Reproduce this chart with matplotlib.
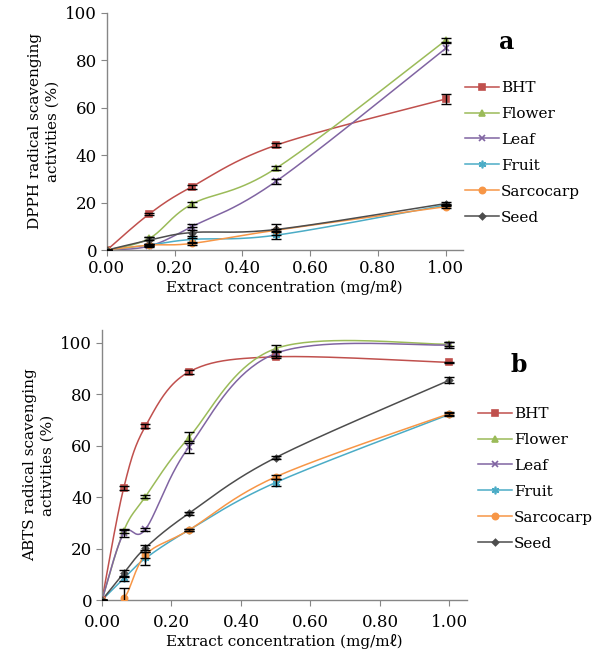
import numpy as np
import matplotlib
matplotlib.use("Agg")
import matplotlib.pyplot as plt
from matplotlib.lines import Line2D

plt.rcParams['font.family'] = ['DejaVu Serif', 'Noto Sans CJK KR']

series = ["BHT", "Flower", "Leaf", "Fruit", "Sarcocarp", "Seed"]
colors = ["#C0504D", "#9BBB59", "#8064A2", "#4BACC6", "#F79646", "#4D4D4D"]
markers = ["s", "^", "x", (6, 2, 0), "o", "D"]
msizes = [4.5, 5, 4.5, 5.5, 4.5, 3.2]

# Panel a: DPPH
x_a = [0.0, 0.125, 0.25, 0.5, 1.0]
dpph_bht = [0, 15.2, 26.6, 44.2, 63.6]
dpph_flower = [0, 4.9, 19.3, 34.5, 88.3]
dpph_leaf = [0, 1.7, 9.8, 29.0, 84.9]
dpph_fruit = [0, 2.1, 4.5, 6.3, 19.0]
dpph_sarcocarp = [0, 2.1, 2.8, 8.4, 18.3]
dpph_seed = [0, 4.2, 7.4, 8.7, 19.6]
dpph_err_bht = [0, 0.6, 1.0, 0.8, 2.0]
dpph_err_flower = [0, 0.5, 1.0, 0.8, 1.0]
dpph_err_leaf = [0, 0.5, 1.2, 1.0, 2.5]
dpph_err_fruit = [0, 0.5, 1.5, 1.5, 0.5]
dpph_err_sarcocarp = [0, 0.5, 0.5, 0.5, 0.5]
dpph_err_seed = [0, 1.5, 2.5, 2.5, 0.5]

# Panel b: ABTS
x_b = [0.0, 0.0625, 0.125, 0.25, 0.5, 1.0]
abts_bht = [0, 43.6, 67.6, 88.7, 94.6, 92.4]
abts_flower = [0, 26.9, 40.2, 63.2, 97.8, 99.5]
abts_leaf = [0, 25.9, 27.5, 59.5, 95.9, 99.2]
abts_fruit = [0, 8.4, 16.2, 27.2, 45.7, 72.2]
abts_sarcocarp = [0, 0.6, 17.5, 27.2, 47.9, 72.5]
abts_seed = [0, 10.4, 20.3, 33.7, 55.4, 85.5]
abts_err_bht = [0, 0.8, 0.8, 0.6, 0.5, 0.3]
abts_err_flower = [0, 0.8, 0.5, 2.0, 1.5, 0.8]
abts_err_leaf = [0, 1.5, 0.5, 2.5, 1.0, 1.0]
abts_err_fruit = [0, 1.0, 2.5, 0.5, 1.5, 0.5]
abts_err_sarcocarp = [0, 4.0, 1.0, 0.5, 0.8, 0.5]
abts_err_seed = [0, 1.3, 1.0, 0.5, 0.5, 1.2]

xticks = [0.0, 0.2, 0.4, 0.6, 0.8, 1.0]
yticks = [0, 20, 40, 60, 80, 100]


def smooth(xs, ys, n=40):
    P = np.column_stack([xs, ys]).astype(float)
    out = []
    m = len(P)
    t = np.linspace(0, 1, n)[:, None]
    for i in range(m - 1):
        prev = P[i - 1] if i > 0 else P[i]
        nxt = P[i + 2] if i + 2 < m else P[i + 1]
        c1 = P[i] + (P[i + 1] - prev) / 6.0
        c2 = P[i + 1] - (nxt - P[i]) / 6.0
        seg = ((1 - t) ** 3) * P[i] + 3 * ((1 - t) ** 2) * t * c1 + 3 * (1 - t) * t ** 2 * c2 + t ** 3 * P[i + 1]
        out.append(seg if i == 0 else seg[1:])
    out = np.vstack(out)
    return out[:, 0], out[:, 1]


fig = plt.figure(figsize=(6, 6.6), dpi=100)
ax_a = fig.add_axes([0.178, 0.621, 0.593, 0.360])
ax_b = fig.add_axes([0.170, 0.0909, 0.608, 0.409])

data_a = [dpph_bht, dpph_flower, dpph_leaf, dpph_fruit, dpph_sarcocarp, dpph_seed]
err_a = [dpph_err_bht, dpph_err_flower, dpph_err_leaf, dpph_err_fruit, dpph_err_sarcocarp, dpph_err_seed]
data_b = [abts_bht, abts_flower, abts_leaf, abts_fruit, abts_sarcocarp, abts_seed]
err_b = [abts_err_bht, abts_err_flower, abts_err_leaf, abts_err_fruit, abts_err_sarcocarp, abts_err_seed]


def draw(ax, xs, datasets, errs, ylim, ylabel, tag, tagpos, legpos, xpad):
    for ys, es, c, mk, ms in zip(datasets, errs, colors, markers, msizes):
        sx, sy = smooth(xs, ys)
        ax.plot(sx, sy, color=c, lw=1.1, zorder=2)
        ax.plot(xs, ys, linestyle='none', marker=mk, color=c, ms=ms, mew=1.2, zorder=3)
    for ys, es in zip(datasets, errs):
        ax.errorbar(xs, ys, yerr=es, fmt='none', ecolor='black', elinewidth=1.0,
                    capsize=3.8, capthick=1.0, zorder=4)
    ax.set_xlim(0, 1.05)
    ax.set_ylim(*ylim)
    ax.set_xticks(xticks)
    ax.set_xticklabels(["%.2f" % v for v in xticks])
    ax.set_yticks(yticks)
    for s in ["top", "right"]:
        ax.spines[s].set_visible(False)
    for s in ["left", "bottom"]:
        ax.spines[s].set_color("#868686")
        ax.spines[s].set_linewidth(1.0)
    ax.tick_params(axis='both', direction='out', length=4, color="#868686", labelsize=12, pad=3)
    ax.tick_params(axis='x', pad=xpad)
    ax.set_xlabel("Extract concentration (mg/mℓ)", fontsize=11, labelpad=2)
    ax.set_ylabel(ylabel, fontsize=11, linespacing=1.35, labelpad=4)
    handles = [Line2D([], [], color=c, marker=mk, ms=ms, mew=1.2, lw=1.1)
               for c, mk, ms in zip(colors, markers, msizes)]
    fig.legend(handles, series, loc='upper left', bbox_to_anchor=legpos,
               bbox_transform=fig.transFigure, frameon=False, fontsize=11,
               handlelength=2.2, handletextpad=0.15, labelspacing=0.78, numpoints=1,
               borderaxespad=0, borderpad=0)
    fig.text(tagpos[0], tagpos[1], tag, fontsize=17, fontweight='bold', ha='center', va='center')


draw(ax_a, x_a, data_a, err_a, (0, 100), "DPPH radical scavenging\nactivities (%)", "a",
     (507 / 600, 1 - 42 / 660), (0.775, 1 - 81 / 660), 3)
draw(ax_b, x_b, data_b, err_b, (0, 105), "ABTS radical scavenging\nactivities (%)", "b",
     (519 / 600, 1 - 365 / 660), (0.797, 1 - 407 / 660), 6)

fig.savefig("out.png", dpi=100)
